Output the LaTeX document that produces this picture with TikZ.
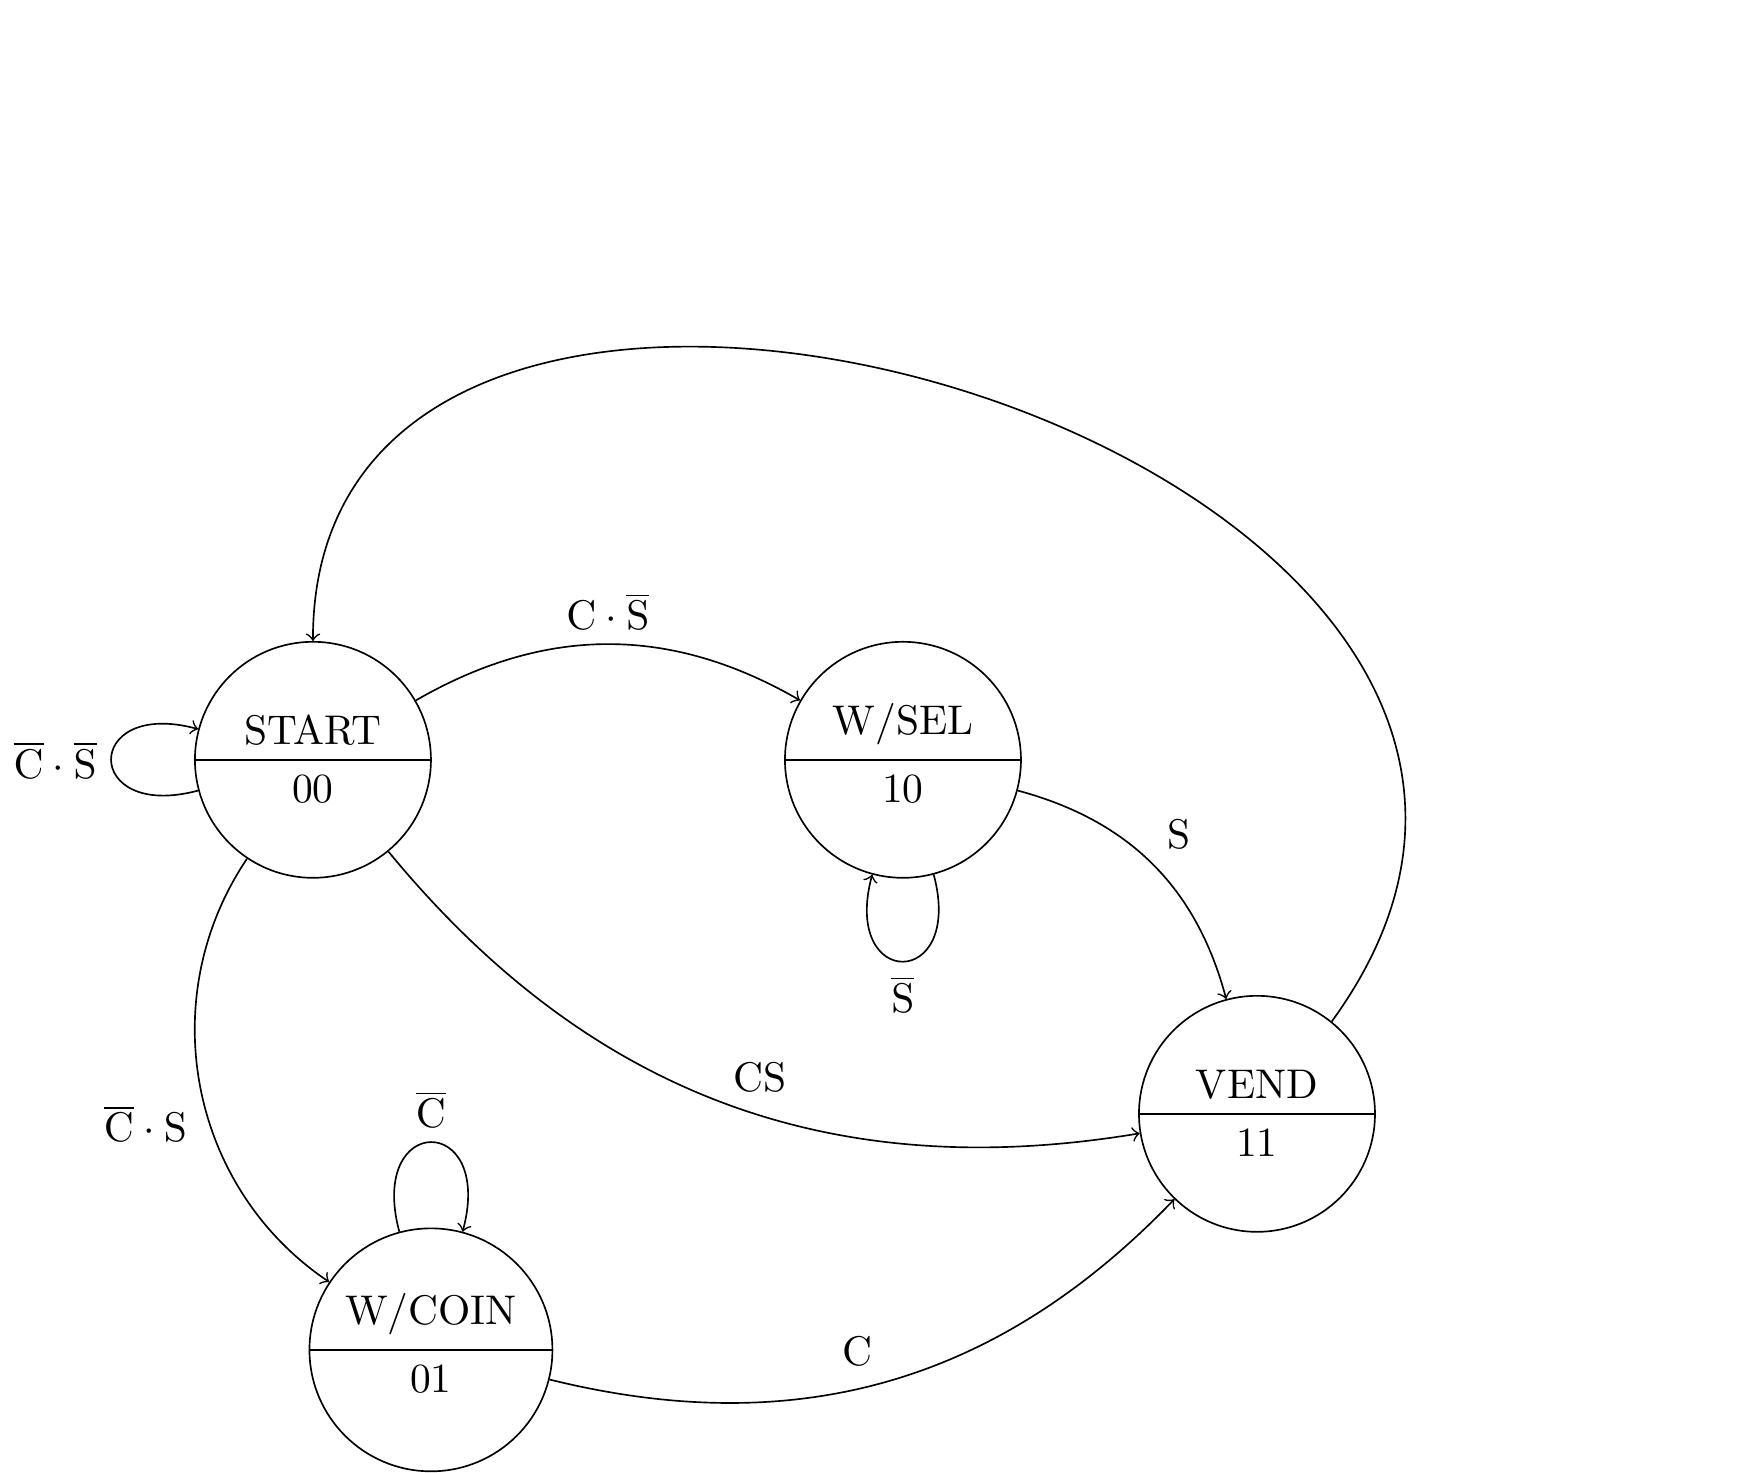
\documentclass[tikz,border=0pt]{standalone}
\usepackage{amsmath, amssymb}
\usetikzlibrary{shapes, positioning, arrows}

\begin{document}
\begin{tikzpicture}[
    state/.style={circle split, draw, minimum size=2cm},
    every loop/.style={looseness=5},
    bend angle=30
  ]
  \useasboundingbox (-2.652,-6.036) rectangle (12.195,6.439);

  \node[state] (start) at (0,0) {START \nodepart{lower} 00};
  \node[state] (wsel) at (5,0) {W/SEL \nodepart{lower} 10};
  \node[state] (vend) at (8,-3) {VEND \nodepart{lower} 11};
  \node[state] (wcoin) at (1,-5) {W/COIN \nodepart{lower} 01};

  % self loops
  \draw[->] (start) to[loop left] node[left] {$\overline{\mathrm{C}}\cdot\overline{\mathrm{S}}$} ();
  \draw[->] (wsel) to[loop below] node[below] {$\overline{\mathrm{S}}$} ();
  \draw[->] (wcoin) to[loop above] node[above] {$\overline{\mathrm{C}}$} ();

  % transitions
  \draw[->] (start) to[bend left] node[above] {$\mathrm{C}\cdot\overline{\mathrm{S}}$} (wsel);
  \draw[->] (wsel) to[bend left] node[above right] {S} (vend);
  \draw[->] (start) to[bend right] node[above, pos=0.55, yshift=2pt] {CS} (vend);
  \draw[->] (start) to[bend right=45] node[left, pos=0.58, xshift=-2pt] {$\overline{\mathrm{C}}\cdot\mathrm{S}$} (wcoin);
  \draw[->] (wcoin) to[bend right] node[above, pos=0.45, yshift=2pt] {C} (vend);
  \draw[->] (vend.51) .. controls (12.1,2.55) and (0,6.1) .. (start.north);
\end{tikzpicture}
\end{document}
